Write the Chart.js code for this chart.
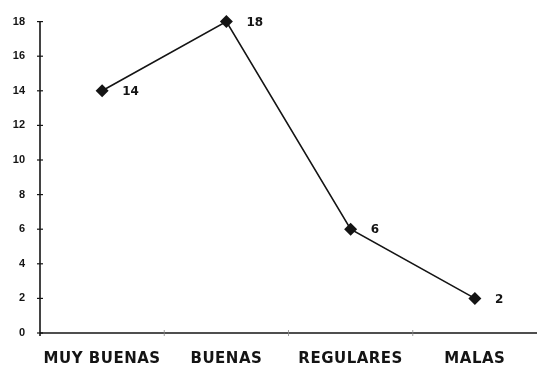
<!DOCTYPE html>
<html>
<head>
<meta charset="utf-8">
<script src="https://cdn.jsdelivr.net/npm/chart.js@4/dist/chart.umd.min.js"></script>
<style>
  html, body { margin: 0; padding: 0; background: #fff; }
  #wrap { width: 537px; height: 367px; position: relative; }
</style>
</head>
<body>
<div id="wrap"><canvas id="c" width="537" height="367"></canvas></div>
<script>
// Calificación de las respuestas
const categories = ['MUY BUENAS', 'BUENAS', 'REGULARES', 'MALAS'];
const counts = [14, 18, 6, 2];
const yTicks = [0, 2, 4, 6, 8, 10, 12, 14, 16, 18];

const ink = '#141414';
const heavy = '"DejaVu Sans", "Liberation Sans", Arial, sans-serif';

// Axis lines with short crossing ticks, category names and value labels
const axisMarks = {
  id: 'axisMarks',
  afterDatasetsDraw(chart) {
    const ctx = chart.ctx;
    const x = chart.scales.x, y = chart.scales.y;
    const area = chart.chartArea;
    const y0 = y.getPixelForValue(0);
    ctx.save();
    ctx.strokeStyle = ink;
    ctx.lineWidth = 1.6;
    ctx.beginPath();
    ctx.moveTo(area.left, y.getPixelForValue(18));
    ctx.lineTo(area.left, y0 + 3);
    ctx.stroke();
    ctx.beginPath();
    ctx.moveTo(area.left, y0);
    ctx.lineTo(area.right, y0);
    ctx.stroke();
    ctx.lineWidth = 1.2;
    yTicks.forEach(v => {
      const py = y.getPixelForValue(v);
      ctx.beginPath();
      ctx.moveTo(area.left - 3, py);
      ctx.lineTo(area.left + 3, py);
      ctx.stroke();
    });
    ctx.lineWidth = 0.8;
    ctx.strokeStyle = '#888';
    for (let i = 1; i < categories.length; i++) {
      const px = (x.getPixelForValue(i - 1) + x.getPixelForValue(i)) / 2;
      ctx.beginPath();
      ctx.moveTo(px, y0 - 3);
      ctx.lineTo(px, y0 + 3);
      ctx.stroke();
    }
    // category names
    ctx.fillStyle = ink;
    ctx.font = 'bold 15px ' + heavy;
    ctx.letterSpacing = '0.5px';
    ctx.textAlign = 'center';
    ctx.textBaseline = 'middle';
    categories.forEach((c, i) => {
      ctx.fillText(c, x.getPixelForValue(i), y0 + 26);
    });
    // value labels
    ctx.letterSpacing = '0px';
    ctx.font = 'bold 12px ' + heavy;
    ctx.textAlign = 'left';
    const meta = chart.getDatasetMeta(0);
    meta.data.forEach((pt, i) => {
      ctx.fillText(String(counts[i]), pt.x + 20, pt.y + 1);
    });
    ctx.restore();
  }
};

new Chart(document.getElementById('c'), {
  type: 'line',
  data: {
    labels: categories,
    datasets: [{
      data: counts,
      borderColor: ink,
      borderWidth: 1.6,
      backgroundColor: ink,
      pointStyle: 'rectRot',
      pointRadius: 6.5,
      pointBorderWidth: 0,
      pointBackgroundColor: ink,
      tension: 0,
      fill: false,
      clip: false
    }]
  },
  options: {
    responsive: false,
    animation: false,
    layout: { autoPadding: false, padding: { top: 16, right: 0, left: 0, bottom: 0 } },
    plugins: { legend: { display: false }, tooltip: { enabled: false } },
    scales: {
      x: {
        offset: true,
        grid: { display: false, drawTicks: false },
        border: { display: false },
        ticks: { display: false },
        afterFit(scale) { scale.height = 34; }
      },
      y: {
        min: 0,
        max: 18,
        afterBuildTicks(scale) { scale.ticks = yTicks.map(v => ({ value: v })); },
        grid: { display: false, drawTicks: false },
        border: { display: false },
        ticks: {
          color: ink,
          padding: 15,
          font: { family: '"Liberation Sans", Arial, sans-serif', size: 11, weight: 'bold' }
        },
        afterFit(scale) { scale.width = 40; }
      }
    }
  },
  plugins: [axisMarks]
});
</script>
</body>
</html>
